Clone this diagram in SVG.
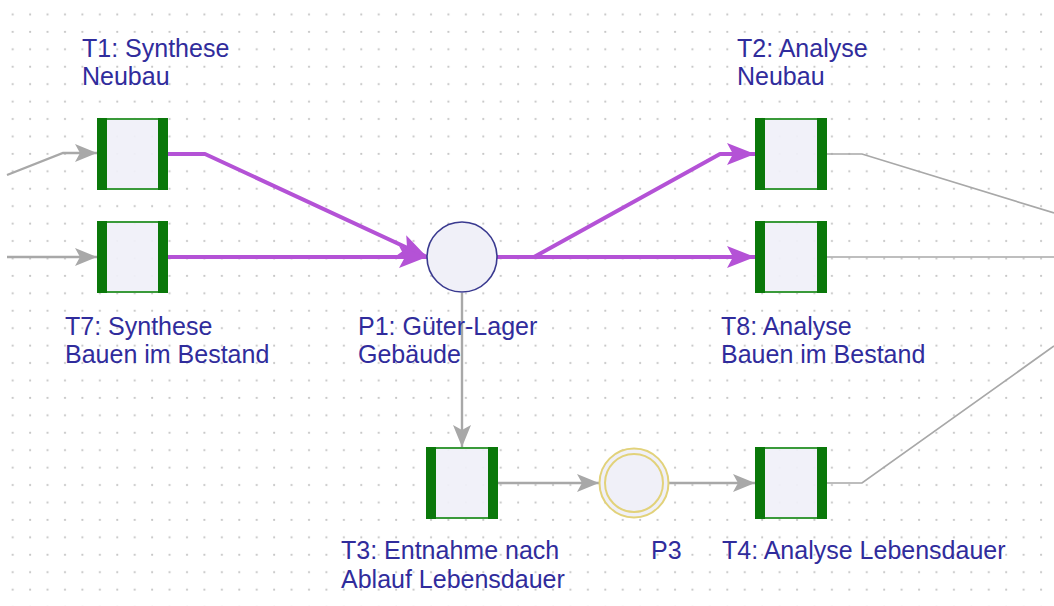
<svg xmlns="http://www.w3.org/2000/svg" width="1054" height="606" viewBox="0 0 1054 606">
<style>
.lbl{font-family:"Liberation Sans",Arial,sans-serif;font-size:25px;fill:#302c9c}
.tbox{fill:#f0f0f8;stroke:#3a9a3a;stroke-width:2;fill-opacity:0.92}
.bar{fill:#0a780a}
.gray{fill:none;stroke:#a8a8a8;stroke-width:2.4}
.thin{fill:none;stroke:#a8a8a8;stroke-width:1.7}
.purple{fill:none;stroke:#b452d6;stroke-width:4;stroke-linejoin:round}
</style>
<defs>
<pattern id="grid" patternUnits="userSpaceOnUse" x="0" y="0" width="17.43" height="17.43">
<circle cx="12.7" cy="14.5" r="1.1" fill="#c6c6c6"/>
</pattern>
<marker id="ag" markerUnits="userSpaceOnUse" markerWidth="24" markerHeight="20" refX="22" refY="9" orient="auto">
<path d="M0,0 L22,9 L0,18 L5,9 z" fill="#a8a8a8"/>
</marker>
<marker id="ap" markerUnits="userSpaceOnUse" markerWidth="30" markerHeight="24" refX="28" refY="11" orient="auto">
<path d="M0,0 L28,11 L0,22 L6,11 z" fill="#b452d6"/>
</marker>
</defs>
<rect x="0" y="0" width="1054" height="606" fill="#ffffff"/>
<rect x="0" y="0" width="1054" height="606" fill="url(#grid)"/>

<g id="connectors">
<path class="gray" d="M7,175 L63,153 L97,153" marker-end="url(#ag)"/>
<path class="gray" d="M7,257 L97,257" marker-end="url(#ag)"/>
<path class="purple" d="M168,154 L205,154 L427,257" marker-end="url(#ap)"/>
<path class="purple" d="M168,257 L427,257" marker-end="url(#ap)"/>
<path class="purple" d="M497,257 L534,257 L720,154 L755,154" marker-end="url(#ap)"/>
<path class="purple" d="M497,257 L755,257" marker-end="url(#ap)"/>
<path class="thin" d="M827,154 L862,154 L1054,213"/>
<path class="thin" d="M827,257 L1054,257"/>
<path class="thin" d="M827,483 L862,483 L1054,346"/>
<path class="gray" d="M462,293 L462,447" marker-end="url(#ag)"/>
<path class="gray" d="M498,483 L599,483" marker-end="url(#ag)"/>
<path class="gray" d="M669,483 L755,483" marker-end="url(#ag)"/>
</g>

<g id="T1">
<rect class="tbox" x="98" y="119" width="69" height="70"/>
<rect class="bar" x="97" y="118" width="10" height="72"/>
<rect class="bar" x="158" y="118" width="10" height="72"/>
<text class="lbl" x="82" y="57">T1: Synthese</text>
<text class="lbl" x="82" y="85">Neubau</text>
</g>
<g id="T7">
<rect class="tbox" x="98" y="222" width="69" height="70"/>
<rect class="bar" x="97" y="221" width="10" height="72"/>
<rect class="bar" x="158" y="221" width="10" height="72"/>
<text class="lbl" x="65" y="335">T7: Synthese</text>
<text class="lbl" x="65" y="363">Bauen im Bestand</text>
</g>
<g id="P1">
<circle cx="462" cy="257" r="35" fill="#f0f0f8" stroke="#3a3a90" stroke-width="1.6"/>
<text class="lbl" x="358" y="335">P1: Güter-Lager</text>
<text class="lbl" x="358" y="363">Gebäude</text>
</g>
<g id="T2">
<rect class="tbox" x="756" y="119" width="70" height="70"/>
<rect class="bar" x="755" y="118" width="10" height="72"/>
<rect class="bar" x="817" y="118" width="10" height="72"/>
<text class="lbl" x="737" y="57">T2: Analyse</text>
<text class="lbl" x="737" y="85">Neubau</text>
</g>
<g id="T8">
<rect class="tbox" x="756" y="222" width="70" height="70"/>
<rect class="bar" x="755" y="221" width="10" height="72"/>
<rect class="bar" x="817" y="221" width="10" height="72"/>
<text class="lbl" x="721" y="335">T8: Analyse</text>
<text class="lbl" x="721" y="363">Bauen im Bestand</text>
</g>
<g id="T3">
<rect class="tbox" x="427" y="448" width="70" height="70"/>
<rect class="bar" x="426" y="447" width="10" height="72"/>
<rect class="bar" x="488" y="447" width="10" height="72"/>
<text class="lbl" x="341" y="559">T3: Entnahme nach</text>
<text class="lbl" x="341" y="588">Ablauf Lebensdauer</text>
</g>
<g id="P3">
<circle cx="634" cy="483" r="34.5" fill="#f0f0f8" stroke="#e2d27a" stroke-width="2"/>
<circle cx="634" cy="483" r="29" fill="none" stroke="#e2d27a" stroke-width="2"/>
<text class="lbl" x="651" y="559">P3</text>
</g>
<g id="T4">
<rect class="tbox" x="756" y="448" width="70" height="70"/>
<rect class="bar" x="755" y="447" width="10" height="72"/>
<rect class="bar" x="817" y="447" width="10" height="72"/>
<text class="lbl" x="722" y="559">T4: Analyse Lebensdauer</text>
</g>
</svg>
